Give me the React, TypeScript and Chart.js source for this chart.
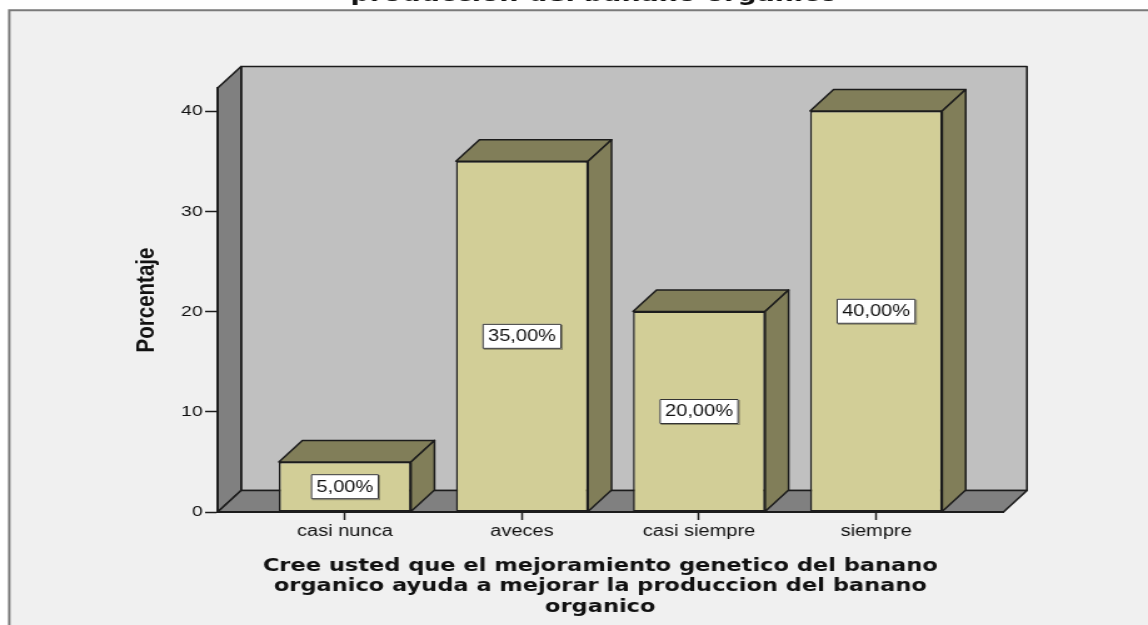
import React, { useEffect, useRef } from 'react';
import { Chart, registerables } from 'chart.js';

Chart.register(...registerables);

// ---------------- data ----------------
const categories: string[] = ['casi nunca', 'aveces', 'casi siempre', 'siempre'];
const percentages: number[] = [5, 35, 20, 40];
const yTickStep = 10;
const yAxisMax = 42.3;
const chartTitleVisible = 'produccion del banano organico';
const xAxisTitleLines: string[] = [
  'Cree usted que el mejoramiento genetico del banano',
  'organico ayuda a mejorar la produccion del banano',
  'organico',
];
const yAxisTitle = 'Porcentaje';

// ---------------- layout (canvas px; canvas is stretched horizontally to the page width) ----------------
const CANVAS_W = 918;
const CANVAS_H = 625;
const PAGE_W = 1148;
const PLOT_TOP = 88;
const PLOT_BOTTOM = 512;
const PLOT_LEFT = 174;
const PLOT_RIGHT = 802.4;
const DX = 18.8;
const DY = 21.5;
const AXIS_EDGE_EXTRA = 0.219;

const C = {
  page: '#ffffff',
  panel: '#f0f0f0',
  frame: '#7a7a7a',
  backWall: '#c0c0c0',
  sideWall: '#808080',
  edge: '#1c1c1c',
  barFront: '#d2ce97',
  barShade: '#817e59',
  text: '#111111',
};
const SANS = '"Liberation Sans", Arial, sans-serif';
const WIDE = '"DejaVu Sans", Verdana, sans-serif';

const fmt = (v: number) => v.toFixed(2).replace('.', ',') + '%';

function poly(ctx: CanvasRenderingContext2D, pts: number[][], fill: string, stroke: string, lw: number) {
  ctx.beginPath();
  ctx.moveTo(pts[0][0], pts[0][1]);
  for (let i = 1; i < pts.length; i++) ctx.lineTo(pts[i][0], pts[i][1]);
  ctx.closePath();
  ctx.fillStyle = fill;
  ctx.fill();
  ctx.lineJoin = 'round';
  ctx.strokeStyle = stroke;
  ctx.lineWidth = lw;
  ctx.stroke();
}

const spss3d = {
  id: 'spss3d',
  beforeDraw(chart: any) {
    const { ctx, width, height, chartArea: a } = chart;
    ctx.save();
    ctx.fillStyle = C.page;
    ctx.fillRect(0, 0, width, height);
    ctx.fillStyle = C.panel;
    ctx.fillRect(7.4, 10.3, width, height);
    ctx.strokeStyle = C.frame;
    ctx.lineWidth = 2;
    ctx.beginPath();
    ctx.moveTo(7.4, height + 5);
    ctx.lineTo(7.4, 10.3);
    ctx.lineTo(width + 5, 10.3);
    ctx.stroke();

    ctx.fillStyle = C.text;
    ctx.font = `bold 21.5px ${WIDE}`;
    ctx.textAlign = 'center';
    ctx.textBaseline = 'alphabetic';
    ctx.fillText(chartTitleVisible, 475, 1.2);

    const L = a.left, R = a.right, T = a.top, B = a.bottom;
    poly(ctx, [[L + DX, T - DY], [R + DX, T - DY], [R + DX, B - DY], [L + DX, B - DY]], C.backWall, C.edge, 1.6);
    poly(ctx, [[L, T], [L + DX, T - DY], [L + DX, B - DY], [L, B]], C.sideWall, C.edge, 1.6);
    poly(ctx, [[L, B], [L + DX, B - DY], [R + DX, B - DY], [R, B]], C.sideWall, C.edge, 1.6);
    ctx.restore();
  },
  afterDatasetsDraw(chart: any) {
    const { ctx } = chart;
    const meta = chart.getDatasetMeta(0);
    const values = chart.data.datasets[0].data as number[];
    ctx.save();
    meta.data.forEach((bar: any, i: number) => {
      const { x, y, base, width } = bar.getProps(['x', 'y', 'base', 'width'], true);
      const l = x - width / 2, r = x + width / 2;
      poly(ctx, [[l, y], [l + DX, y - DY], [r + DX, y - DY], [r, y]], C.barShade, C.edge, 1.5);
      poly(ctx, [[r, y], [r + DX, y - DY], [r + DX, base - DY], [r, base]], C.barShade, C.edge, 1.5);

      const t = fmt(values[i]);
      ctx.font = `16px ${SANS}`;
      const tw = ctx.measureText(t).width;
      const bw = tw + 9, bh = 25;
      const cy = (y + base) / 2;
      const bx = x - bw / 2, by = cy - bh / 2;
      ctx.fillStyle = 'rgba(0,0,0,0.35)';
      ctx.fillRect(bx + 1, by + 1, bw, bh);
      ctx.fillStyle = '#ffffff';
      ctx.fillRect(bx, by, bw, bh);
      ctx.strokeStyle = '#333333';
      ctx.lineWidth = 1;
      ctx.strokeRect(bx + 0.5, by + 0.5, bw - 1, bh - 1);
      ctx.fillStyle = C.text;
      ctx.textAlign = 'center';
      ctx.textBaseline = 'middle';
      ctx.fillText(t, x, cy + 0.5);
    });
    ctx.restore();
  },
  afterDraw(chart: any) {
    const { ctx } = chart;
    ctx.save();
    ctx.fillStyle = C.text;
    ctx.font = `bold 18px ${WIDE}`;
    ctx.textAlign = 'center';
    ctx.textBaseline = 'alphabetic';
    xAxisTitleLines.forEach((line, i) => {
      ctx.fillText(line, 480, 570.7 + i * 20.5);
    });
    ctx.restore();
  },
};

export default function App() {
  const ref = useRef<HTMLCanvasElement>(null);
  useEffect(() => {
    const chart = new Chart(ref.current as HTMLCanvasElement, {
      type: 'bar',
      data: {
        labels: categories,
        datasets: [
          {
            data: percentages,
            backgroundColor: C.barFront,
            borderColor: C.edge,
            borderWidth: 1.5,
            borderSkipped: false,
            categoryPercentage: 0.746,
            barPercentage: 1,
          } as any,
        ],
      },
      options: {
        responsive: false,
        animation: false,
        devicePixelRatio: 1,
        events: [],
        layout: { padding: { left: 0, top: PLOT_TOP, right: CANVAS_W - PLOT_RIGHT, bottom: 0 } },
        plugins: { legend: { display: false }, tooltip: { enabled: false }, title: { display: false } },
        scales: {
          x: {
            type: 'category',
            offset: true,
            afterBuildTicks: (s: any) => {
              s._startValue = -0.5 - AXIS_EDGE_EXTRA;
              s._valueRange = categories.length + 2 * AXIS_EDGE_EXTRA;
            },
            afterFit: (s: any) => {
              s.height = CANVAS_H - PLOT_BOTTOM;
            },
            grid: {
              display: true,
              drawOnChartArea: false,
              drawTicks: true,
              tickLength: 8,
              tickWidth: 1.5,
              tickColor: C.edge,
              offset: false,
            },
            border: { display: true, color: C.edge, width: 2 },
            ticks: {
              color: C.text,
              font: { family: SANS, size: 16 },
              padding: 2,
              maxRotation: 0,
              autoSkip: false,
            },
          },
          y: {
            min: 0,
            max: yAxisMax,
            beginAtZero: true,
            afterFit: (s: any) => {
              s.width = PLOT_LEFT;
            },
            grid: {
              drawOnChartArea: false,
              drawTicks: true,
              tickLength: 10,
              tickWidth: 1.5,
              tickColor: C.edge,
            },
            border: { display: true, color: C.edge, width: 2 },
            ticks: {
              stepSize: yTickStep,
              includeBounds: false,
              color: C.text,
              font: { family: SANS, size: 15.5 },
              padding: 2,
            },
            title: {
              display: true,
              text: yAxisTitle,
              color: C.text,
              font: { family: SANS, size: 20.5, weight: 'bold' },
              padding: { top: 105, bottom: 0 },
            },
          },
        },
      } as any,
      plugins: [spss3d],
    });
    return () => chart.destroy();
  }, []);
  return (
    <div style={{ position: 'absolute', left: 0, top: 0, width: PAGE_W, height: CANVAS_H, overflow: 'hidden' }}>
      <canvas
        ref={ref}
        width={CANVAS_W}
        height={CANVAS_H}
        style={{ width: PAGE_W, height: CANVAS_H, display: 'block' }}
      />
    </div>
  );
}
